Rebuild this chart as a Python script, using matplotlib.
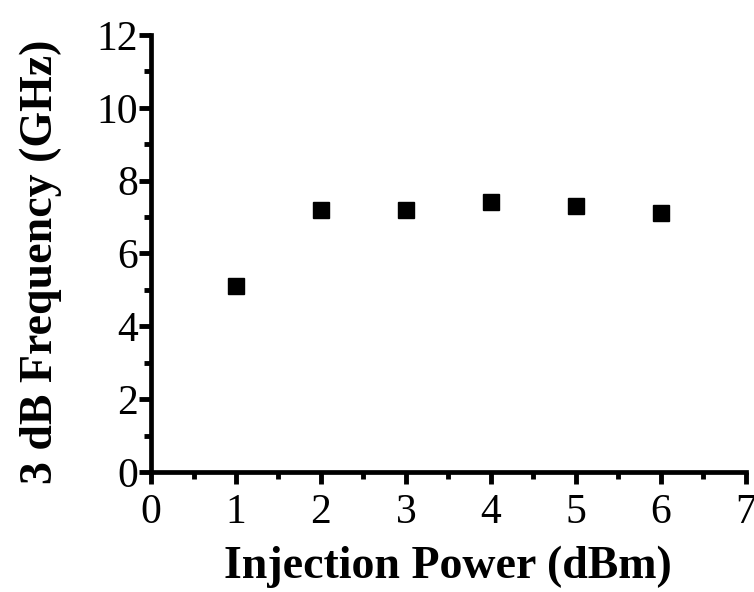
import matplotlib
matplotlib.use("Agg")
import matplotlib.pyplot as plt
from matplotlib.ticker import MultipleLocator

injection_power = [1, 2, 3, 4, 5, 6]
freq_3db = [5.1, 7.2, 7.2, 7.4, 7.3, 7.1]

plt.rcParams['font.family'] = ['Liberation Serif', 'DejaVu Serif']

fig = plt.figure(figsize=(7.54, 5.92), dpi=100)
ax = fig.add_axes([0.2003, 0.2027, 0.7887, 0.7383])

ax.plot(injection_power, freq_3db, linestyle='none', marker='s',
        markersize=12, color='black')

ax.set_xlim(0, 7)
ax.set_ylim(0, 12)
ax.xaxis.set_major_locator(MultipleLocator(1))
ax.xaxis.set_minor_locator(MultipleLocator(0.5))
ax.yaxis.set_major_locator(MultipleLocator(2))
ax.yaxis.set_minor_locator(MultipleLocator(1))

for side in ['top', 'right']:
    ax.spines[side].set_visible(False)
for side in ['left', 'bottom']:
    ax.spines[side].set_linewidth(3.4)

ax.tick_params(which='major', direction='out', length=8.5, width=3.5,
               labelsize=30, pad=1)
ax.tick_params(axis='x', which='major', pad=7)
ax.tick_params(which='minor', direction='out', length=5.3, width=3.5)

ax.set_xlabel('Injection Power (dBm)', fontsize=33, fontweight='bold', labelpad=10)
ax.set_ylabel('3 dB Frequency (GHz)', fontsize=33, fontweight='bold')
ax.yaxis.set_label_coords(-0.15, 0.48)

fig.savefig('out.png', dpi=100, facecolor='white')
